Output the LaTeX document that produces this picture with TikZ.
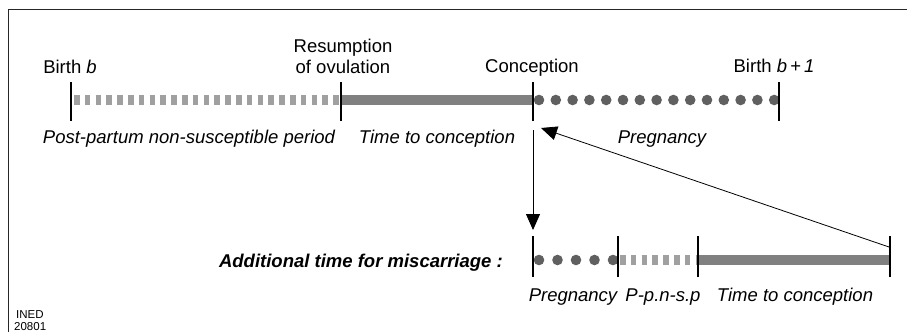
\documentclass[tikz,border=0pt]{standalone}
\usepackage{fontspec}
\setmainfont{Liberation Sans}
\usetikzlibrary{arrows.meta}
\definecolor{dotcol}{HTML}{606060}
\definecolor{dashcol}{HTML}{A0A0A0}
\definecolor{barcol}{HTML}{808080}
\begin{document}
\begin{tikzpicture}[x=1pt,y=-1pt,
  lab/.style={font=\fontsize{18.5}{21}\selectfont, anchor=base, inner sep=0pt},
  ilab/.style={font=\fontsize{18.5}{21}\selectfont\itshape, anchor=base, inner sep=0pt},
  small/.style={font=\fontsize{11.5}{13}\selectfont, anchor=base west, inner sep=0pt},
  tickline/.style={line width=2.5pt, black},
  solidbar/.style={line width=10pt, barcol},
  dashbar/.style={line width=10pt, dashcol, dash pattern=on 5.5pt off 5.3pt},
  conn/.style={line width=0.8pt, black, -{Triangle[length=16pt,width=14pt]}}]
\useasboundingbox (0,0) rectangle (907,332);
% frame
\draw[line width=1pt, black!85] (907,9) -- (8,9) -- (8,332);

% main timeline points
\coordinate (b0) at (71,100);
\coordinate (ro) at (341,100);
\coordinate (co) at (533,100);
\coordinate (b1) at (779,100);
% miscarriage timeline points
\coordinate (m0) at (533,260);
\coordinate (m1) at (618,260);
\coordinate (m2) at (698,260);
\coordinate (m3) at (890,260);

% bars
\draw[dashbar] (74,100) -- (ro);
\draw[solidbar] (ro) -- (co);
\foreach \i in {0,...,14} \fill[dotcol] ({539+16.8*\i},100) circle (5.3);
\foreach \i in {0,...,4} \fill[dotcol] ({539+18.5*\i},260) circle (5.3);
\draw[dashbar] (620,260) -- (m2);
\draw[solidbar] (m2) -- (m3);

% ticks
\foreach \p in {b0,ro,co,b1} \draw[tickline] ([yshift=18pt]\p) -- ([yshift=-21pt]\p);
\foreach \p in {m0,m1,m2,m3} \draw[tickline] ([yshift=24pt]\p) -- ([yshift=-17pt]\p);

% labels above
\node[lab] (lb0) at (70,73) {Birth \textit{b}};
\node[lab] (lro1) at (343,52) {Resumption};
\node[lab] (lro2) at (343,73) {of ovulation};
\node[lab] (lco) at (532,72) {Conception};
\node[lab] (lb1) at (774,72) {Birth \textit{b\,+\,1}};

% labels below
\node[ilab] (lppn) at (189,143) {Post-partum non-susceptible period};
\node[ilab] (ltc) at (437,143) {Time to conception};
\node[ilab] (lpg) at (662,143) {Pregnancy};

\node[font=\fontsize{18.5}{21}\selectfont\bfseries\itshape, anchor=base east, inner sep=0pt] (ladd) at (503,267) {Additional time for miscarriage :};
\node[ilab] (lpg2) at (573,301) {Pregnancy};
\node[ilab] (lpp2) at (663,301) {P-p.n-s.p};
\node[ilab] (ltc2) at (795,301) {Time to conception};

\node[small] (ined1) at (16,318) {INED};
\node[small] (ined2) at (14,330) {20801};

% arrows
\coordinate (vtop) at (533,130);
\coordinate (vtip) at (533,230);
\coordinate (dst) at (889,247);
\coordinate (dtip) at (541,128);
\draw[conn] (vtop) -- (vtip);
\draw[conn] (dst) -- (dtip);
\end{tikzpicture}
\end{document}
